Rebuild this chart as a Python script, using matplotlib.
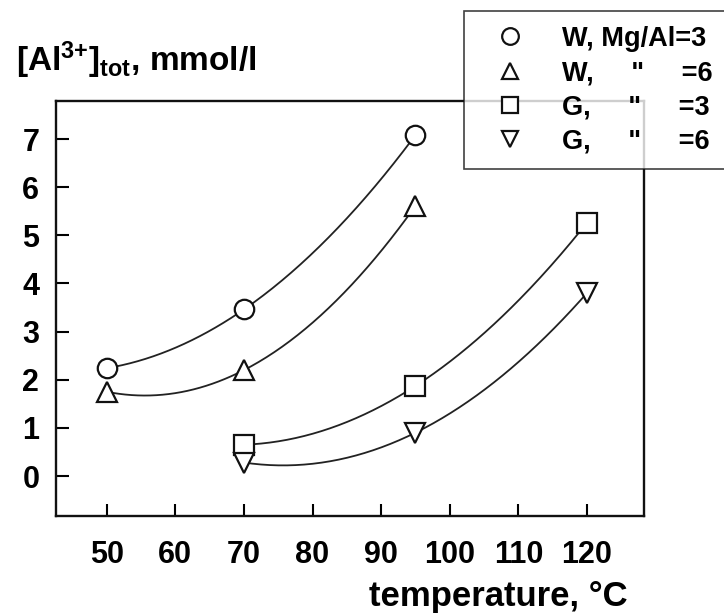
import numpy as np
import matplotlib
matplotlib.use('Agg')
import matplotlib.pyplot as plt
from matplotlib.lines import Line2D

# data
temp_W = [50, 70, 95]
temp_G = [70, 95, 120]
al_W3 = [2.24, 3.46, 7.08]
al_W6 = [1.75, 2.20, 5.61]
al_G3 = [0.65, 1.87, 5.26]
al_G6 = [0.28, 0.90, 3.80]

series = [
    (temp_W, al_W3, 'o', 'W, Mg/Al=3'),
    (temp_W, al_W6, '^', 'W,     "     =6'),
    (temp_G, al_G3, 's', 'G,     "     =3'),
    (temp_G, al_G6, 'v', 'G,     "     =6'),
]
x_ticks = [50, 60, 70, 80, 90, 100, 110, 120]
y_ticks = [0, 1, 2, 3, 4, 5, 6, 7]

plt.rcParams['font.family'] = ['Liberation Sans', 'DejaVu Sans']
plt.rcParams['font.weight'] = 'bold'
plt.rcParams['mathtext.fontset'] = 'custom'
plt.rcParams['mathtext.rm'] = 'Liberation Sans:bold'
plt.rcParams['mathtext.it'] = 'Liberation Sans:bold'
plt.rcParams['mathtext.bf'] = 'Liberation Sans:bold'

fig = plt.figure(figsize=(7.24, 6.15), dpi=100)
ax = fig.add_axes([0.0773, 0.161, 0.812, 0.6748])

handles = []
for xs, ys, mk, lab in series:
    # smooth curve: quadratic through the three points
    coef = np.polyfit(xs, ys, 2)
    xx = np.linspace(xs[0], xs[-1], 200)
    ax.plot(xx, np.polyval(coef, xx), color='#222222', lw=1.3, zorder=2)
    ax.plot(xs, ys, mk, ms=14, mfc='white', mec='#111111', mew=1.6, zorder=3)
    handles.append(Line2D([], [], ls='none', marker=mk, ms=12, mfc='white',
                          mec='#111111', mew=1.6, label=lab))

ax.set_xlim(42.6, 128.3)
ax.set_ylim(-0.83, 7.79)
ax.set_xticks(x_ticks)
ax.set_yticks(y_ticks)
ax.tick_params(direction='in', length=9, width=1.5, labelsize=22, pad=12)
ax.tick_params(axis='x', pad=17)
for lab in ax.get_xticklabels() + ax.get_yticklabels():
    lab.set_fontweight('bold')
for sp in ax.spines.values():
    sp.set_linewidth(1.7)
    sp.set_color('#111111')

fig.text(0.022, 0.885, r'[Al$^{\text{3+}}$]$_{\text{tot}}$, mmol/l',
         fontsize=24, fontweight='bold', va='baseline', ha='left')
fig.text(0.867, 0.0146, 'temperature, °C', fontsize=25, fontweight='bold',
         va='baseline', ha='right')

leg = fig.legend(handles=handles, loc='upper left',
                 bbox_to_anchor=(464 / 724, 1 - 11 / 615),
                 bbox_transform=fig.transFigure, frameon=True, fancybox=False,
                 prop={'size': 19.5, 'weight': 'bold'}, borderaxespad=0,
                 handletextpad=0.75, labelspacing=0.3, borderpad=0.55,
                 handlelength=2.3)
leg.get_frame().set_edgecolor('#111111')
leg.get_frame().set_linewidth(1.2)
leg.set_zorder(5)

fig.savefig('out.png', dpi=100, facecolor='white')
